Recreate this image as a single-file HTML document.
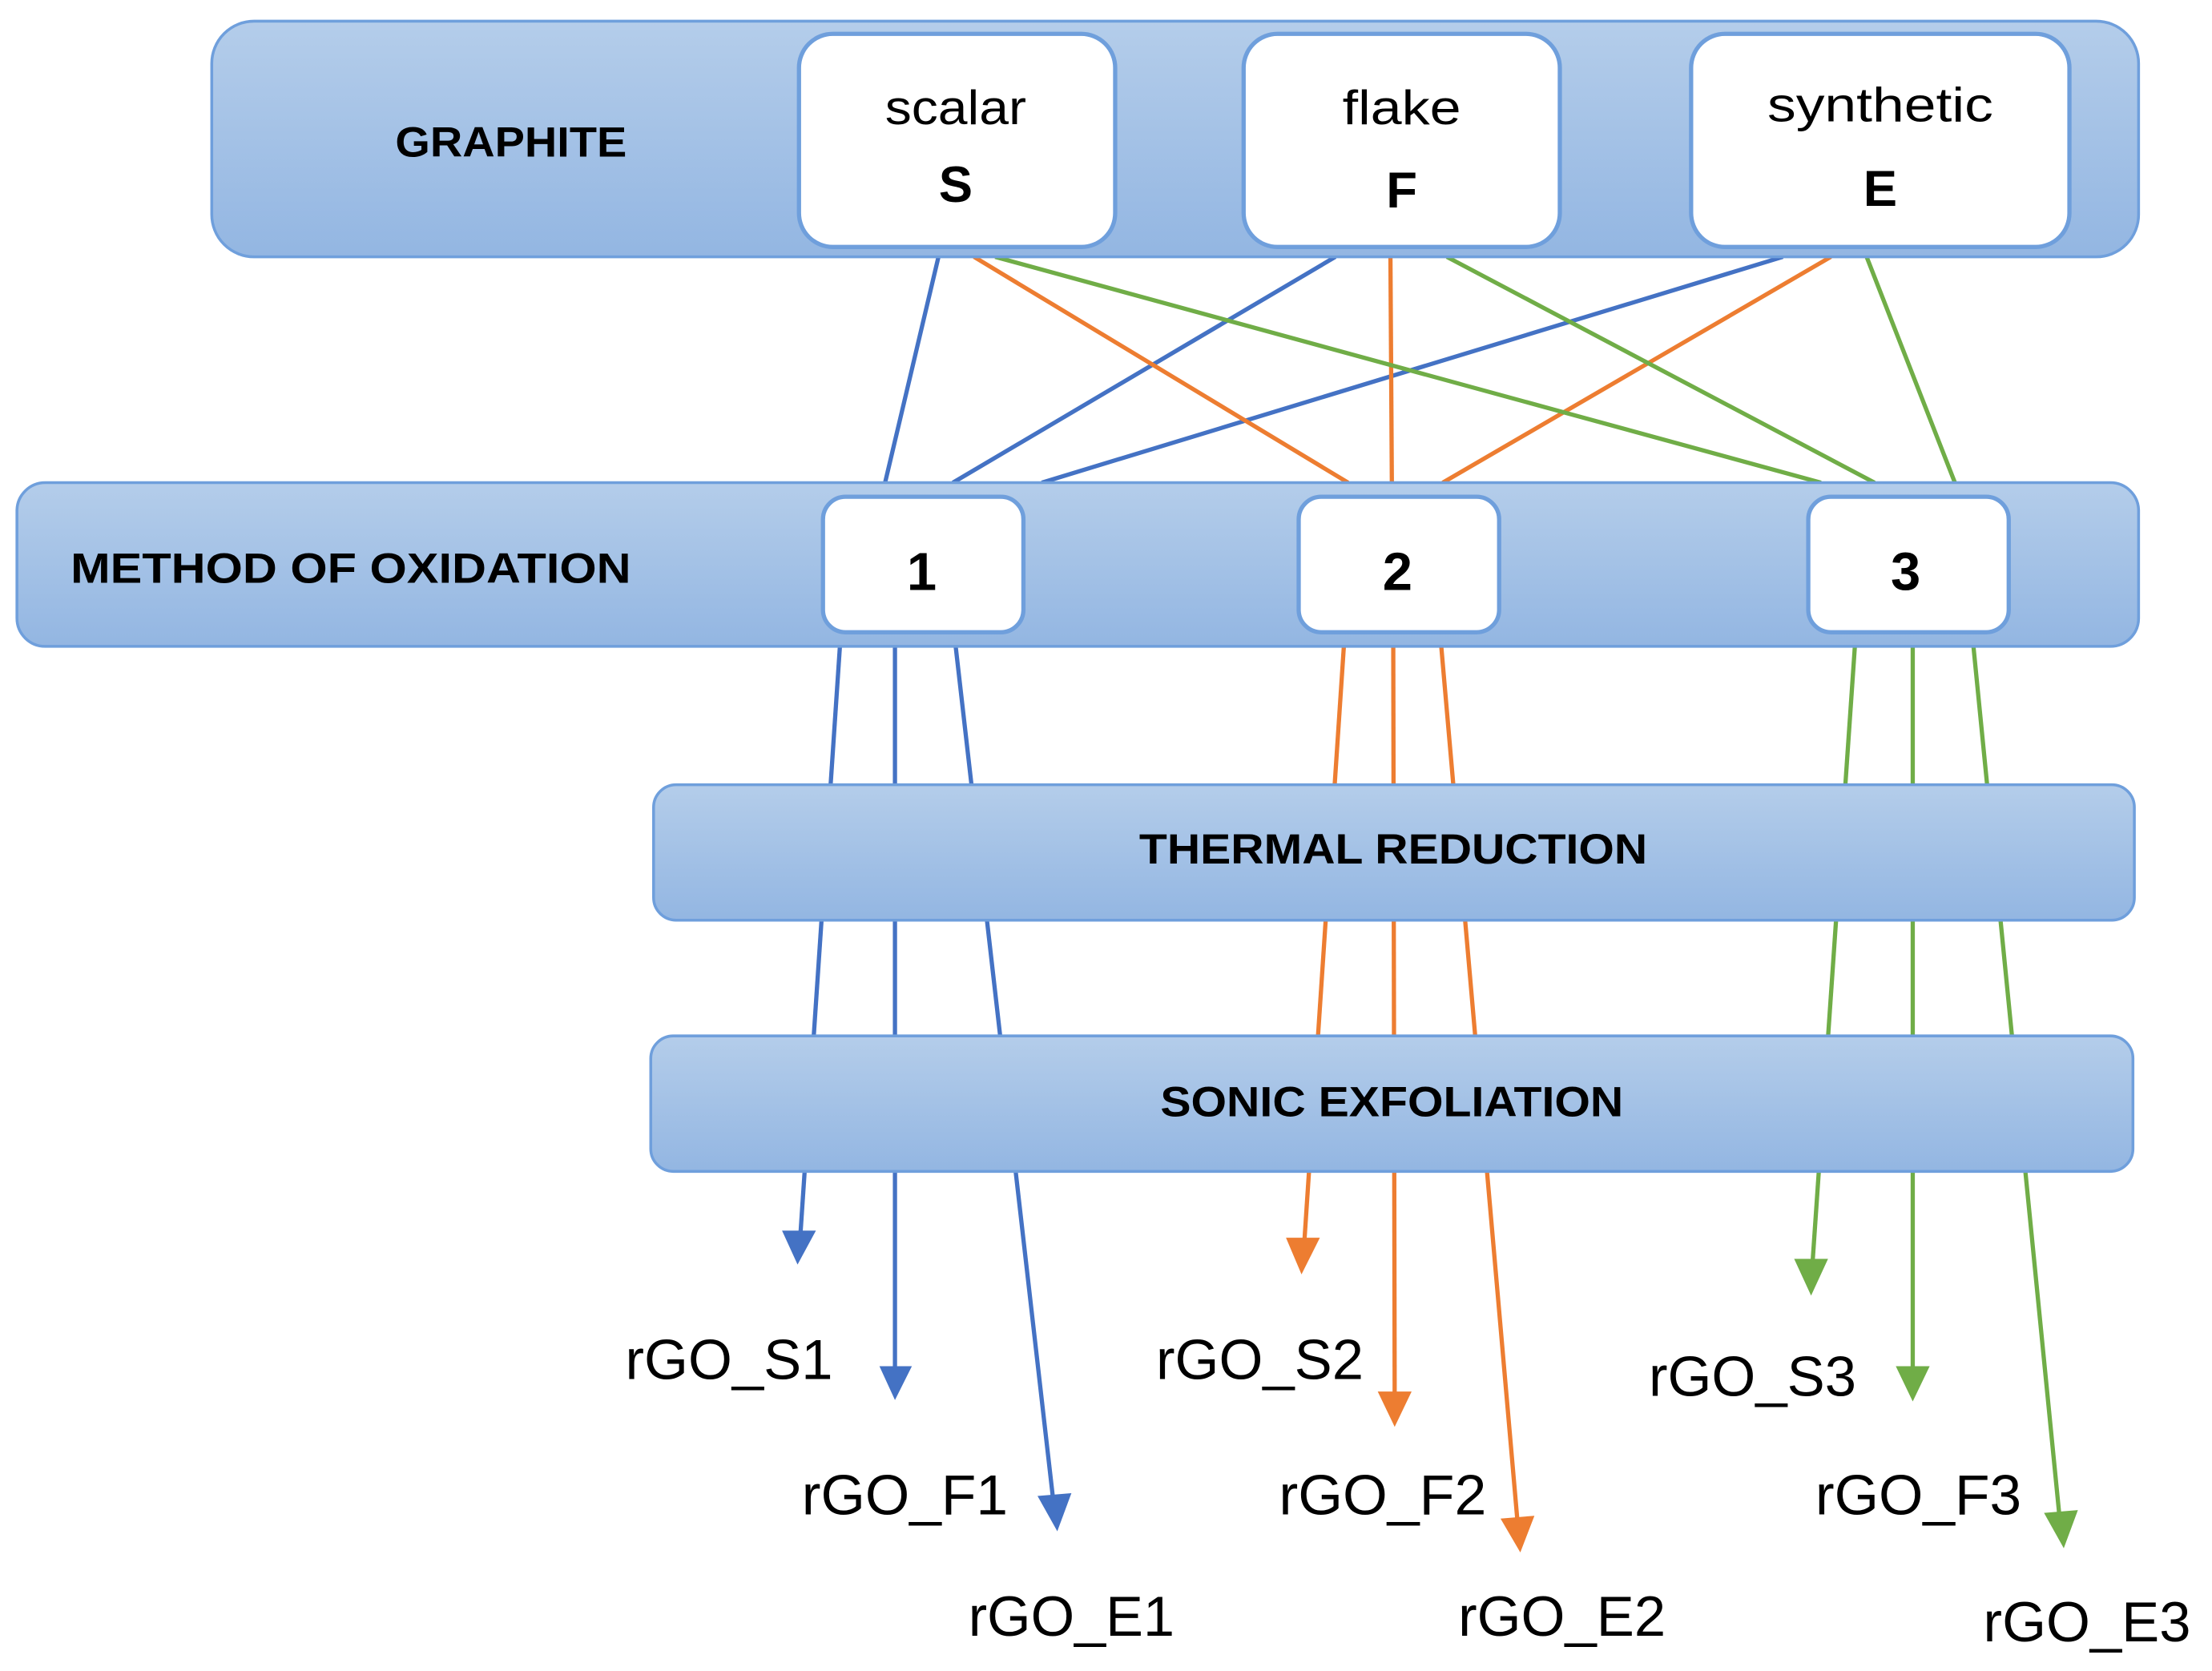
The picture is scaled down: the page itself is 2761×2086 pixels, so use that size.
<!DOCTYPE html>
<html><head><meta charset="utf-8"><style>
html,body{margin:0;padding:0;background:#fff;}
svg{display:block;}
text{font-family:"Liberation Sans",sans-serif;}
</style></head><body>
<svg width="2761" height="2086" viewBox="0 0 1567 1184" preserveAspectRatio="none" xmlns="http://www.w3.org/2000/svg">
<defs>
<linearGradient id="g" x1="0" y1="0" x2="0" y2="1">
<stop offset="0" stop-color="#b4cdea"/><stop offset="1" stop-color="#93b6e2"/>
</linearGradient>
</defs>
<g stroke-width="3" fill="none">
<g stroke="#4472c4">
<line x1="666" y1="177" x2="627" y2="342"/>
<line x1="946" y1="182" x2="675" y2="342"/>
<line x1="1263" y1="182" x2="738" y2="342"/>
<line x1="595" y1="458" x2="567" y2="875"/>
<line x1="634" y1="458" x2="634" y2="970"/>
<line x1="677" y1="458" x2="746" y2="1062"/>
</g>
<g stroke="#ed7d31">
<line x1="690" y1="182" x2="955" y2="342"/>
<line x1="985" y1="182" x2="986" y2="342"/>
<line x1="1297" y1="182" x2="1022" y2="342"/>
<line x1="952" y1="458" x2="924" y2="880"/>
<line x1="987" y1="458" x2="988" y2="988"/>
<line x1="1021" y1="458" x2="1075" y2="1078"/>
</g>
<g stroke="#70ad47">
<line x1="705" y1="182" x2="1290" y2="342"/>
<line x1="1025" y1="182" x2="1328" y2="342"/>
<line x1="1320" y1="176" x2="1388" y2="350"/>
<line x1="1314" y1="458" x2="1284" y2="895"/>
<line x1="1355" y1="458" x2="1355" y2="970"/>
<line x1="1398" y1="458" x2="1459" y2="1075"/>
</g>
</g>
<g fill="url(#g)" stroke="#6f9fdc" stroke-width="2">
<rect x="150" y="15" width="1365" height="167" rx="30"/>
<rect x="12" y="342" width="1503" height="116" rx="20"/>
<rect x="463" y="556" width="1049" height="96" rx="16"/>
<rect x="461" y="734" width="1050" height="96" rx="16"/>
</g>
<g fill="#fff" stroke="#6f9fdc" stroke-width="3">
<rect x="566" y="24" width="224" height="151" rx="24"/>
<rect x="881" y="24" width="224" height="151" rx="24"/>
<rect x="1198" y="24" width="268" height="151" rx="24"/>
<rect x="583" y="352" width="142" height="96" rx="16"/>
<rect x="920" y="352" width="142" height="96" rx="16"/>
<rect x="1281" y="352" width="142" height="96" rx="16"/>
</g>
<g>
<polygon points="554,872 578,872 565,896" fill="#4472c4"/>
<polygon points="623,968 646,968 634,992" fill="#4472c4"/>
<polygon points="735,1060 759,1058 749,1085" fill="#4472c4"/>
<polygon points="911,877 935,877 922,903" fill="#ed7d31"/>
<polygon points="976,986 1000,986 988,1011" fill="#ed7d31"/>
<polygon points="1063,1076 1087,1074 1077,1100" fill="#ed7d31"/>
<polygon points="1271,892 1295,892 1283,918" fill="#70ad47"/>
<polygon points="1343,968 1367,968 1355,993" fill="#70ad47"/>
<polygon points="1448,1072 1472,1070 1462,1097" fill="#70ad47"/>
</g>
<g font-weight="bold" fill="#000" font-size="30">
<text x="362" y="111" text-anchor="middle" textLength="164" lengthAdjust="spacingAndGlyphs">GRAPHITE</text>
<text x="50" y="413" textLength="397" lengthAdjust="spacingAndGlyphs">METHOD OF OXIDATION</text>
<text x="987" y="612" text-anchor="middle" textLength="360" lengthAdjust="spacingAndGlyphs">THERMAL REDUCTION</text>
<text x="986" y="791" text-anchor="middle" textLength="328" lengthAdjust="spacingAndGlyphs">SONIC EXFOLIATION</text>
<text x="677" y="143" text-anchor="middle" font-size="36">S</text>
<text x="993" y="147" text-anchor="middle" font-size="36">F</text>
<text x="1332" y="146" text-anchor="middle" font-size="36">E</text>
<text x="653" y="418" text-anchor="middle" font-size="38">1</text>
<text x="990" y="418" text-anchor="middle" font-size="38">2</text>
<text x="1350" y="418" text-anchor="middle" font-size="38">3</text>
</g>
<g fill="#000" font-size="34">
<text x="677" y="88" text-anchor="middle" textLength="100" lengthAdjust="spacingAndGlyphs">scalar</text>
<text x="993" y="88" text-anchor="middle" textLength="84" lengthAdjust="spacingAndGlyphs">flake</text>
<text x="1332" y="86" text-anchor="middle" textLength="160" lengthAdjust="spacingAndGlyphs">synthetic</text>
</g>
<g fill="#000" font-size="40">
<text x="443" y="977" textLength="147" lengthAdjust="spacingAndGlyphs">rGO_S1</text>
<text x="568" y="1073" textLength="146" lengthAdjust="spacingAndGlyphs">rGO_F1</text>
<text x="686" y="1159" textLength="146" lengthAdjust="spacingAndGlyphs">rGO_E1</text>
<text x="819" y="977" textLength="147" lengthAdjust="spacingAndGlyphs">rGO_S2</text>
<text x="906" y="1073" textLength="147" lengthAdjust="spacingAndGlyphs">rGO_F2</text>
<text x="1033" y="1159" textLength="147" lengthAdjust="spacingAndGlyphs">rGO_E2</text>
<text x="1168" y="989" textLength="147" lengthAdjust="spacingAndGlyphs">rGO_S3</text>
<text x="1286" y="1073" textLength="146" lengthAdjust="spacingAndGlyphs">rGO_F3</text>
<text x="1405" y="1163" textLength="147" lengthAdjust="spacingAndGlyphs">rGO_E3</text>
</g>
</svg>
</body></html>
